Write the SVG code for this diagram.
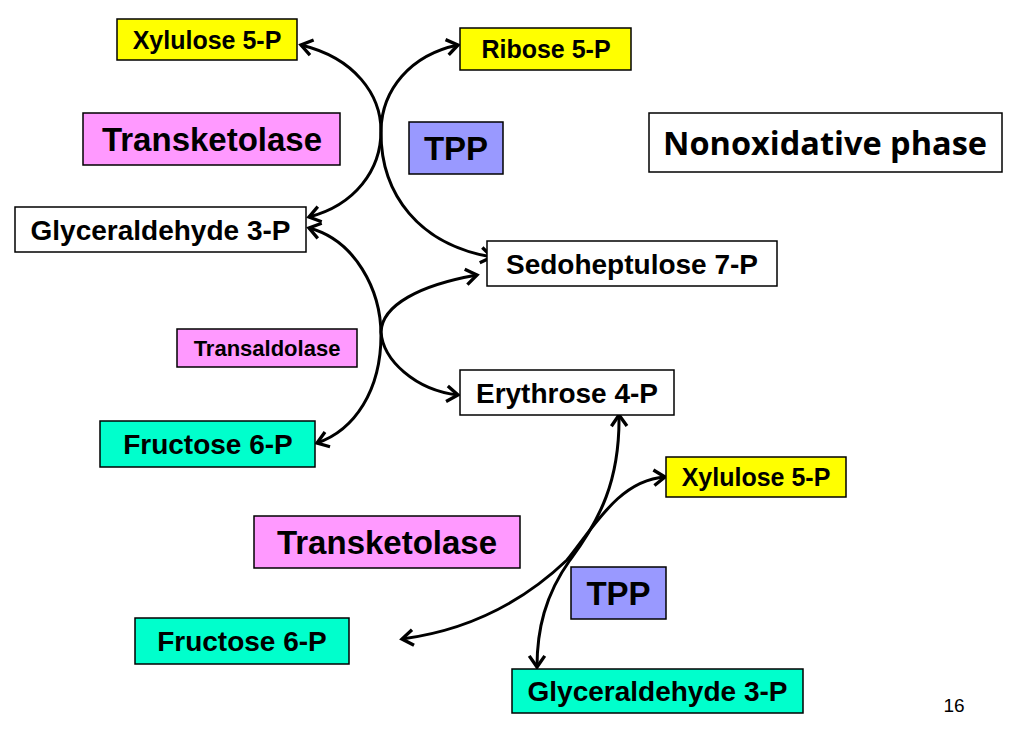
<svg xmlns="http://www.w3.org/2000/svg" width="1012" height="735" viewBox="0 0 1012 735">
<style>
.b{stroke:#000;stroke-width:1.5}
.t{font-family:"Liberation Sans",Arial,sans-serif;font-weight:bold;fill:#000;text-anchor:middle}
.y{fill:#FFFF00}.p{fill:#FF99FF}.v{fill:#9999FF}.a{fill:#00FFCC}.w{fill:#FFFFFF}
.c{fill:none;stroke:#000;stroke-width:3;marker-start:url(#ah);marker-end:url(#ah)}
</style>
<defs>
<marker id="ah" markerUnits="userSpaceOnUse" markerWidth="20" markerHeight="20" viewBox="-13 -9 16 18" refX="0" refY="0" orient="auto-start-reverse">
<path d="M-10,-7 L0,0 L-10,7" fill="none" stroke="#000" stroke-width="3"/>
</marker>
</defs>
<rect width="1012" height="735" fill="#fff"/>
<g id="connectors">
<path class="c" d="M301,45 C355,58 381,95 381,131 C381,170 355,205 309,217"/>
<path class="c" d="M458,45 C410,55 382,90 381,130 C380,195 420,245 492,257"/>
<path class="c" d="M309,228 C355,240 381,290 381,335 C381,390 355,430 317,443"/>
<path class="c" d="M477,275 C420,285 382,305 381,332 C383,360 415,390 458,395"/>
<path class="c" d="M619,415 C620,480 600,520 570,560 C545,595 537,630 537,667"/>
<path class="c" d="M665,477 C620,480 595,525 567,560 C525,600 470,630 402,639"/>
</g>
<g id="xylulose1"><rect class="b y" x="117" y="19" width="180" height="41"/><text class="t" x="207" y="48.5" font-size="25">Xylulose 5-P</text></g>
<g id="ribose"><rect class="b y" x="460" y="28" width="171" height="42"/><text class="t" x="546" y="58" font-size="25">Ribose 5-P</text></g>
<g id="transketolase1"><rect class="b p" x="83" y="113" width="257" height="52"/><text class="t" x="212" y="150.5" font-size="33">Transketolase</text></g>
<g id="tpp1"><rect class="b v" x="409" y="122" width="94" height="52"/><text class="t" x="456" y="159.5" font-size="33">TPP</text></g>
<g id="nonoxidative"><rect class="b w" x="649" y="113" width="353" height="59"/><text x="825" y="155" font-size="32" font-family="'Open Sans','Noto Sans',sans-serif" font-weight="bold" text-anchor="middle" textLength="324" lengthAdjust="spacingAndGlyphs">Nonoxidative phase</text></g>
<g id="glyceraldehyde1"><rect class="b w" x="15" y="207" width="291" height="45"/><text class="t" x="160.5" y="239.5" font-size="28">Glyceraldehyde 3-P</text></g>
<g id="sedoheptulose"><rect class="b w" x="487" y="241" width="290" height="45"/><text class="t" x="632" y="273.5" font-size="28">Sedoheptulose 7-P</text></g>
<g id="transaldolase"><rect class="b p" x="177" y="329" width="180" height="38"/><text class="t" x="267" y="355.5" font-size="22">Transaldolase</text></g>
<g id="erythrose"><rect class="b w" x="460" y="370" width="214" height="45"/><text class="t" x="567" y="402.5" font-size="28">Erythrose 4-P</text></g>
<g id="fructose1"><rect class="b a" x="100" y="421" width="215" height="46"/><text class="t" x="208" y="454" font-size="28">Fructose 6-P</text></g>
<g id="xylulose2"><rect class="b y" x="666" y="457" width="180" height="40"/><text class="t" x="756" y="485.5" font-size="25">Xylulose 5-P</text></g>
<g id="transketolase2"><rect class="b p" x="254" y="516" width="266" height="52"/><text class="t" x="387" y="553.5" font-size="33">Transketolase</text></g>
<g id="tpp2"><rect class="b v" x="571" y="567" width="95" height="52"/><text class="t" x="618.5" y="604.5" font-size="33">TPP</text></g>
<g id="fructose2"><rect class="b a" x="135" y="618" width="214" height="46"/><text class="t" x="242" y="651" font-size="28">Fructose 6-P</text></g>
<g id="glyceraldehyde2"><rect class="b a" x="512" y="669" width="291" height="44"/><text class="t" x="657.5" y="701" font-size="28">Glyceraldehyde 3-P</text></g>
<text x="954" y="712" font-size="19" font-family="'Liberation Sans',Arial,sans-serif" text-anchor="middle">16</text>
</svg>
